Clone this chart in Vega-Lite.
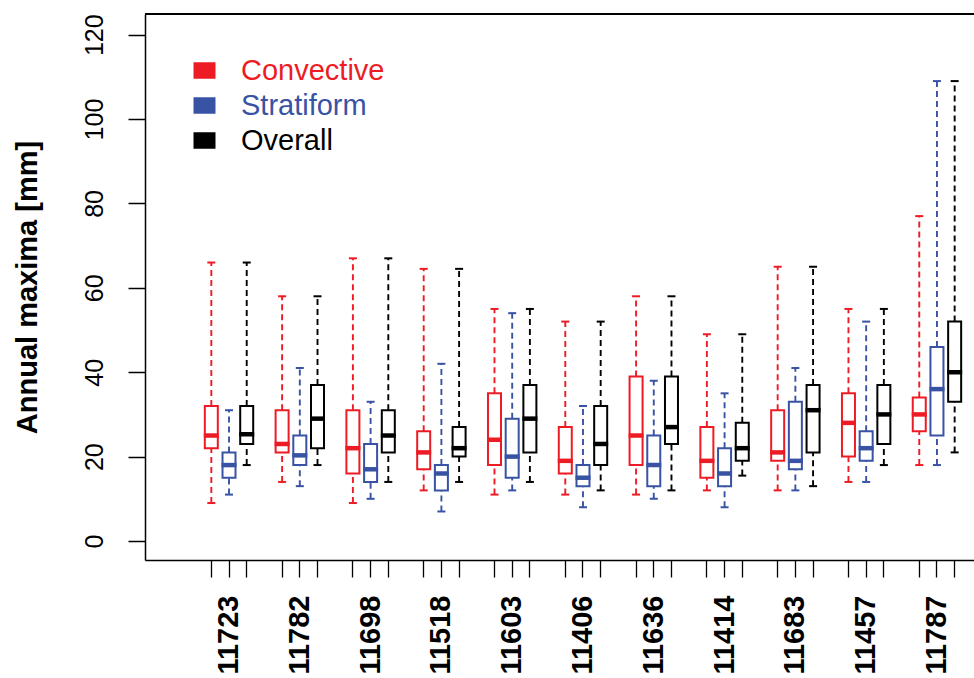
{
  "$schema": "https://vega.github.io/schema/vega-lite/v6.json",
  "width": 829,
  "height": 546,
  "autosize": {"type": "none"},
  "padding": {"left": 145, "top": 14, "right": 0, "bottom": 118},
  "background": "white",
  "data": {
    "values": [
      {"station": "11723", "type": "Convective", "lower": 9, "q1": 22, "median": 25, "q3": 32, "upper": 66},
      {"station": "11723", "type": "Stratiform", "lower": 11, "q1": 15, "median": 18, "q3": 21, "upper": 31},
      {"station": "11723", "type": "Overall", "lower": 18, "q1": 23, "median": 25.3, "q3": 32, "upper": 66},
      {"station": "11782", "type": "Convective", "lower": 14, "q1": 21, "median": 23, "q3": 31, "upper": 58},
      {"station": "11782", "type": "Stratiform", "lower": 13, "q1": 18, "median": 20.3, "q3": 25, "upper": 41},
      {"station": "11782", "type": "Overall", "lower": 18, "q1": 22, "median": 29, "q3": 37, "upper": 58},
      {"station": "11698", "type": "Convective", "lower": 9, "q1": 16, "median": 22, "q3": 31, "upper": 67},
      {"station": "11698", "type": "Stratiform", "lower": 10, "q1": 14, "median": 17, "q3": 23, "upper": 33},
      {"station": "11698", "type": "Overall", "lower": 14, "q1": 21, "median": 25, "q3": 31, "upper": 67},
      {"station": "11518", "type": "Convective", "lower": 12, "q1": 17, "median": 21, "q3": 26, "upper": 64.5},
      {"station": "11518", "type": "Stratiform", "lower": 7, "q1": 12, "median": 16, "q3": 18, "upper": 42},
      {"station": "11518", "type": "Overall", "lower": 14, "q1": 20, "median": 22, "q3": 27, "upper": 64.5},
      {"station": "11603", "type": "Convective", "lower": 11, "q1": 18, "median": 24, "q3": 35, "upper": 55},
      {"station": "11603", "type": "Stratiform", "lower": 12, "q1": 15, "median": 20, "q3": 29, "upper": 54},
      {"station": "11603", "type": "Overall", "lower": 14, "q1": 21, "median": 29, "q3": 37, "upper": 55},
      {"station": "11406", "type": "Convective", "lower": 11, "q1": 16, "median": 19, "q3": 27, "upper": 52},
      {"station": "11406", "type": "Stratiform", "lower": 8, "q1": 13, "median": 15, "q3": 18, "upper": 32},
      {"station": "11406", "type": "Overall", "lower": 12, "q1": 18, "median": 23, "q3": 32, "upper": 52},
      {"station": "11636", "type": "Convective", "lower": 11, "q1": 18, "median": 25, "q3": 39, "upper": 58},
      {"station": "11636", "type": "Stratiform", "lower": 10, "q1": 13, "median": 18, "q3": 25, "upper": 38},
      {"station": "11636", "type": "Overall", "lower": 12, "q1": 23, "median": 27, "q3": 39, "upper": 58},
      {"station": "11414", "type": "Convective", "lower": 12, "q1": 15, "median": 19, "q3": 27, "upper": 49},
      {"station": "11414", "type": "Stratiform", "lower": 8, "q1": 13, "median": 16, "q3": 22, "upper": 35},
      {"station": "11414", "type": "Overall", "lower": 15.5, "q1": 19, "median": 22, "q3": 28, "upper": 49},
      {"station": "11683", "type": "Convective", "lower": 12, "q1": 19, "median": 21, "q3": 31, "upper": 65},
      {"station": "11683", "type": "Stratiform", "lower": 12, "q1": 17, "median": 19, "q3": 33, "upper": 41},
      {"station": "11683", "type": "Overall", "lower": 13, "q1": 21, "median": 31, "q3": 37, "upper": 65},
      {"station": "11457", "type": "Convective", "lower": 14, "q1": 20, "median": 28, "q3": 35, "upper": 55},
      {"station": "11457", "type": "Stratiform", "lower": 14, "q1": 19, "median": 22, "q3": 26, "upper": 52},
      {"station": "11457", "type": "Overall", "lower": 18, "q1": 23, "median": 30, "q3": 37, "upper": 55},
      {"station": "11787", "type": "Convective", "lower": 18, "q1": 26, "median": 30, "q3": 34, "upper": 77},
      {"station": "11787", "type": "Stratiform", "lower": 18, "q1": 25, "median": 36, "q3": 46, "upper": 109},
      {"station": "11787", "type": "Overall", "lower": 21, "q1": 33, "median": 40, "q3": 52, "upper": 109}
    ]
  },
  "layer": [
    {
      "transform": [{"calculate": "datum.station + '|' + datum.type", "as": "key"}],
      "encoding": {
        "x": {
          "field": "key",
          "type": "nominal",
          "sort": null,
          "scale": {
            "domain": [
              "pad|1", "pad|2", "pad|3",
              "11723|Convective", "11723|Stratiform", "11723|Overall", "11723|gap",
              "11782|Convective", "11782|Stratiform", "11782|Overall", "11782|gap",
              "11698|Convective", "11698|Stratiform", "11698|Overall", "11698|gap",
              "11518|Convective", "11518|Stratiform", "11518|Overall", "11518|gap",
              "11603|Convective", "11603|Stratiform", "11603|Overall", "11603|gap",
              "11406|Convective", "11406|Stratiform", "11406|Overall", "11406|gap",
              "11636|Convective", "11636|Stratiform", "11636|Overall", "11636|gap",
              "11414|Convective", "11414|Stratiform", "11414|Overall", "11414|gap",
              "11683|Convective", "11683|Stratiform", "11683|Overall", "11683|gap",
              "11457|Convective", "11457|Stratiform", "11457|Overall", "11457|gap",
              "11787|Convective", "11787|Stratiform", "11787|Overall"
            ],
            "paddingInner": 0,
            "paddingOuter": 0.42,
            "align": 0.294
          },
          "axis": {
            "title": null,
            "values": [
              "11723|Convective", "11723|Stratiform", "11723|Overall",
              "11782|Convective", "11782|Stratiform", "11782|Overall",
              "11698|Convective", "11698|Stratiform", "11698|Overall",
              "11518|Convective", "11518|Stratiform", "11518|Overall",
              "11603|Convective", "11603|Stratiform", "11603|Overall",
              "11406|Convective", "11406|Stratiform", "11406|Overall",
              "11636|Convective", "11636|Stratiform", "11636|Overall",
              "11414|Convective", "11414|Stratiform", "11414|Overall",
              "11683|Convective", "11683|Stratiform", "11683|Overall",
              "11457|Convective", "11457|Stratiform", "11457|Overall",
              "11787|Convective", "11787|Stratiform", "11787|Overall"
            ],
            "labelExpr": "split(datum.value, '|')[1] == 'Stratiform' ? split(datum.value, '|')[0] : ''",
            "labelAngle": 270,
            "labelAlign": "right",
            "labelBaseline": "middle",
            "labelFontSize": 29,
            "labelFontWeight": "bold",
            "labelPadding": 18,
            "labelOverlap": false,
            "labelBound": false,
            "labelFlush": false,
            "labelLimit": 200,
            "tickSize": 17,
            "tickWidth": 1.3,
            "domainWidth": 1.5
          }
        },
        "color": {
          "field": "type",
          "type": "nominal",
          "scale": {"domain": ["Convective", "Stratiform", "Overall"], "range": ["#ED1C24", "#3953A4", "#000000"]},
          "legend": {
            "orient": "none",
            "legendX": 45,
            "legendY": 42,
            "title": null,
            "labelFontSize": 29,
            "labelFont": "Liberation Sans",
            "symbolType": "M-1,-0.75H1V0.75H-1Z",
            "symbolSize": 484,
            "symbolStrokeWidth": 0,
            "labelOffset": 22,
            "rowPadding": 5,
            "padding": 0,
            "labelLimit": 400,
            "encode": {
              "labels": {"update": {"fill": {"scale": "color", "field": "value"}}},
              "symbols": {"update": {"fill": {"scale": "color", "field": "value"}, "stroke": {"value": "transparent"}, "opacity": {"value": 1}}}
            }
          }
        }
      },
      "layer": [
        {
          "mark": {"type": "rule", "strokeDash": [6, 4], "strokeWidth": 1.9},
          "encoding": {
            "y": {"field": "q3", "type": "quantitative", "scale": {"domain": [-4.5, 124.9], "nice": false, "zero": false},
              "title": "Annual maxima [mm]", "axis": {"values": [0, 20, 40, 60, 80, 100, 120]}},
            "y2": {"field": "upper"}
          }
        },
        {
          "mark": {"type": "rule", "strokeDash": [6, 4], "strokeWidth": 1.9},
          "encoding": {
            "y": {"field": "lower", "type": "quantitative", "title": "Annual maxima [mm]", "axis": {"values": [0, 20, 40, 60, 80, 100, 120]}},
            "y2": {"field": "q1"}
          }
        },
        {
          "mark": {"type": "bar", "filled": false, "size": 13, "strokeWidth": 2},
          "encoding": {
            "y": {"field": "q1", "type": "quantitative", "title": "Annual maxima [mm]", "axis": {"values": [0, 20, 40, 60, 80, 100, 120]}},
            "y2": {"field": "q3"}
          }
        },
        {
          "mark": {"type": "tick", "size": 15, "thickness": 4.5},
          "encoding": {
            "y": {"field": "median", "type": "quantitative", "title": "Annual maxima [mm]", "axis": {"values": [0, 20, 40, 60, 80, 100, 120]}}
          }
        },
        {
          "mark": {"type": "tick", "size": 8, "thickness": 2},
          "encoding": {
            "y": {"field": "upper", "type": "quantitative", "title": "Annual maxima [mm]", "axis": {"values": [0, 20, 40, 60, 80, 100, 120]}}
          }
        },
        {
          "mark": {"type": "tick", "size": 8, "thickness": 2},
          "encoding": {
            "y": {"field": "lower", "type": "quantitative", "title": "Annual maxima [mm]", "axis": {"values": [0, 20, 40, 60, 80, 100, 120]}}
          }
        }
      ]
    },
    {
      "mark": {"type": "rule", "color": "black", "strokeWidth": 1.5},
      "encoding": {"y": {"datum": 124.9, "type": "quantitative", "title": "Annual maxima [mm]", "axis": {"values": [0, 20, 40, 60, 80, 100, 120]}}}
    }
  ],
  "config": {
    "view": {"stroke": null},
    "font": "Liberation Sans",
    "axis": {"labelFont": "Liberation Sans", "titleFont": "Liberation Sans", "domainColor": "black", "tickColor": "black", "labelColor": "black", "titleColor": "black", "grid": false},
    "axisY": {"labelAngle": 270, "labelAlign": "center", "labelBaseline": "bottom", "labelFontSize": 25, "labelPadding": 21, "tickSize": 17, "tickWidth": 1.5, "domainWidth": 1.5, "titleFontSize": 29, "titleFontWeight": "bold", "titlePadding": 40},
    "tick": {"opacity": 1},
    "bar": {"opacity": 1}
  }
}
